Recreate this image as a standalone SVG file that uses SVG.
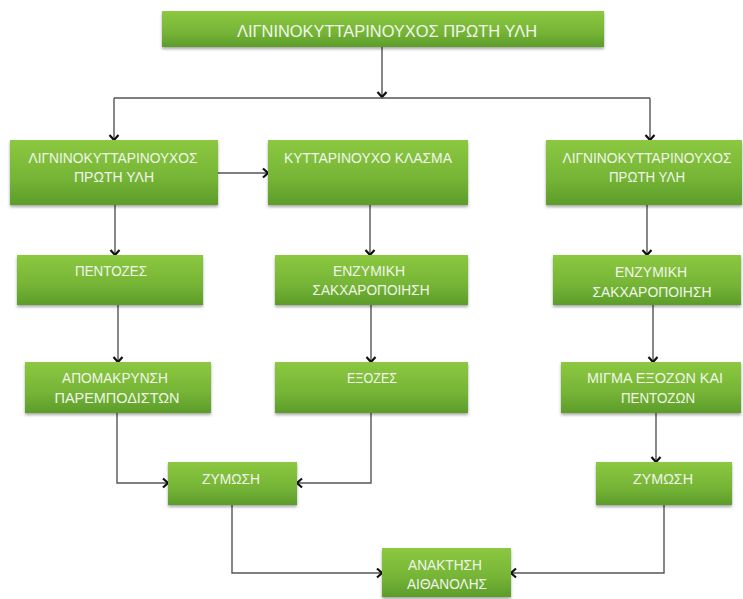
<svg xmlns="http://www.w3.org/2000/svg" width="743" height="599" viewBox="0 0 743 599">
<defs>
<linearGradient id="g" x1="0" y1="0" x2="0" y2="1">
<stop offset="0" stop-color="#8cc840"/>
<stop offset="0.6" stop-color="#75b436"/>
<stop offset="1" stop-color="#5c9c2a"/>
</linearGradient>
<filter id="sh" x="-10%" y="-10%" width="120%" height="140%">
<feDropShadow dx="0" dy="2" stdDeviation="1.5" flood-color="#000" flood-opacity="0.35"/>
</filter>
<marker id="a" markerUnits="userSpaceOnUse" markerWidth="12" markerHeight="12" viewBox="-7 -6 9 12" refX="0" refY="0" orient="auto">
<path d="M-5,-4.5 L0,0 L-5,4.5" fill="none" stroke="#111" stroke-width="2.2"/>
</marker>
<style>
.b{fill:url(#g);filter:url(#sh)}
.t{font-family:"Liberation Sans",Arial,sans-serif;font-size:14px;fill:#f1f6ea;text-anchor:middle}
.tt{font-size:16.5px}
.c{fill:none;stroke:#555;stroke-width:1.4;marker-end:url(#a)}
.n{fill:none;stroke:#555;stroke-width:1.4}
</style>
</defs>
<g id="connectors">
<path class="c" d="M382 47 V97"/>
<path class="n" d="M114 98 H650"/>
<path class="c" d="M114 98 V140"/>
<path class="c" d="M650 98 V140"/>
<path class="c" d="M218 173 H268"/>
<path class="c" d="M115 205 V255"/>
<path class="c" d="M370 205 V255"/>
<path class="c" d="M647 205 V255"/>
<path class="c" d="M118 305 V362"/>
<path class="c" d="M371 305 V362"/>
<path class="c" d="M653 305 V362"/>
<path class="c" d="M117 413 V483 H168"/>
<path class="c" d="M371 413 V483 H297"/>
<path class="c" d="M656 413 V462"/>
<path class="c" d="M232 505 V573 H382"/>
<path class="c" d="M664 505 V573 H511"/>
</g>
<g id="top"><rect class="b" x="162" y="11" width="442" height="36"/><text class="t tt" x="387" y="37" textLength="300" lengthAdjust="spacingAndGlyphs">ΛΙΓΝΙΝΟΚΥΤΤΑΡΙΝΟΥΧΟΣ ΠΡΩΤΗ ΥΛΗ</text></g>
<g id="l1"><rect class="b" x="10" y="140" width="208" height="65"/><text class="t" x="113" y="163" textLength="169" lengthAdjust="spacingAndGlyphs">ΛΙΓΝΙΝΟΚΥΤΤΑΡΙΝΟΥΧΟΣ</text><text class="t" x="114" y="182" textLength="80" lengthAdjust="spacingAndGlyphs">ΠΡΩΤΗ ΥΛΗ</text></g>
<g id="c1"><rect class="b" x="268" y="140" width="200" height="65"/><text class="t" x="368" y="163" textLength="168" lengthAdjust="spacingAndGlyphs">ΚΥΤΤΑΡΙΝΟΥΧΟ ΚΛΑΣΜΑ</text></g>
<g id="r1"><rect class="b" x="546" y="140" width="196" height="65"/><text class="t" x="647" y="163" textLength="169" lengthAdjust="spacingAndGlyphs">ΛΙΓΝΙΝΟΚΥΤΤΑΡΙΝΟΥΧΟΣ</text><text class="t" x="647" y="182" textLength="76" lengthAdjust="spacingAndGlyphs">ΠΡΩΤΗ ΥΛΗ</text></g>
<g id="l2"><rect class="b" x="17" y="255" width="186" height="50"/><text class="t" x="111" y="276" textLength="72" lengthAdjust="spacingAndGlyphs">ΠΕΝΤΟΖΕΣ</text></g>
<g id="c2"><rect class="b" x="275" y="255" width="193" height="50"/><text class="t" x="369" y="276" textLength="72" lengthAdjust="spacingAndGlyphs">ΕΝΖΥΜΙΚΗ</text><text class="t" x="371" y="295" textLength="117" lengthAdjust="spacingAndGlyphs">ΣΑΚΧΑΡΟΠΟΙΗΣΗ</text></g>
<g id="r2"><rect class="b" x="553" y="255" width="188" height="50"/><text class="t" x="651" y="277" textLength="72" lengthAdjust="spacingAndGlyphs">ΕΝΖΥΜΙΚΗ</text><text class="t" x="652" y="297" textLength="119" lengthAdjust="spacingAndGlyphs">ΣΑΚΧΑΡΟΠΟΙΗΣΗ</text></g>
<g id="l3"><rect class="b" x="25" y="362" width="186" height="51"/><text class="t" x="115" y="383" textLength="106" lengthAdjust="spacingAndGlyphs">ΑΠΟΜΑΚΡΥΝΣΗ</text><text class="t" x="117" y="403" textLength="125" lengthAdjust="spacingAndGlyphs">ΠΑΡΕΜΠΟΔΙΣΤΩΝ</text></g>
<g id="c3"><rect class="b" x="275" y="362" width="193" height="51"/><text class="t" x="372" y="383" textLength="50" lengthAdjust="spacingAndGlyphs">ΕΞΟΖΕΣ</text></g>
<g id="r3"><rect class="b" x="561" y="362" width="180" height="51"/><text class="t" x="655" y="383" textLength="136" lengthAdjust="spacingAndGlyphs">ΜΙΓΜΑ ΕΞΟΖΩΝ ΚΑΙ</text><text class="t" x="658" y="403" textLength="74" lengthAdjust="spacingAndGlyphs">ΠΕΝΤΟΖΩΝ</text></g>
<g id="l4"><rect class="b" x="168" y="462" width="129" height="43"/><text class="t" x="231" y="484" textLength="58" lengthAdjust="spacingAndGlyphs">ΖΥΜΩΣΗ</text></g>
<g id="r4"><rect class="b" x="596" y="462" width="136" height="43"/><text class="t" x="663" y="484" textLength="60" lengthAdjust="spacingAndGlyphs">ΖΥΜΩΣΗ</text></g>
<g id="end"><rect class="b" x="382" y="548" width="129" height="49"/><text class="t" x="445" y="570" textLength="74" lengthAdjust="spacingAndGlyphs">ΑΝΑΚΤΗΣΗ</text><text class="t" x="447" y="589" textLength="80" lengthAdjust="spacingAndGlyphs">ΑΙΘΑΝΟΛΗΣ</text></g>
</svg>
